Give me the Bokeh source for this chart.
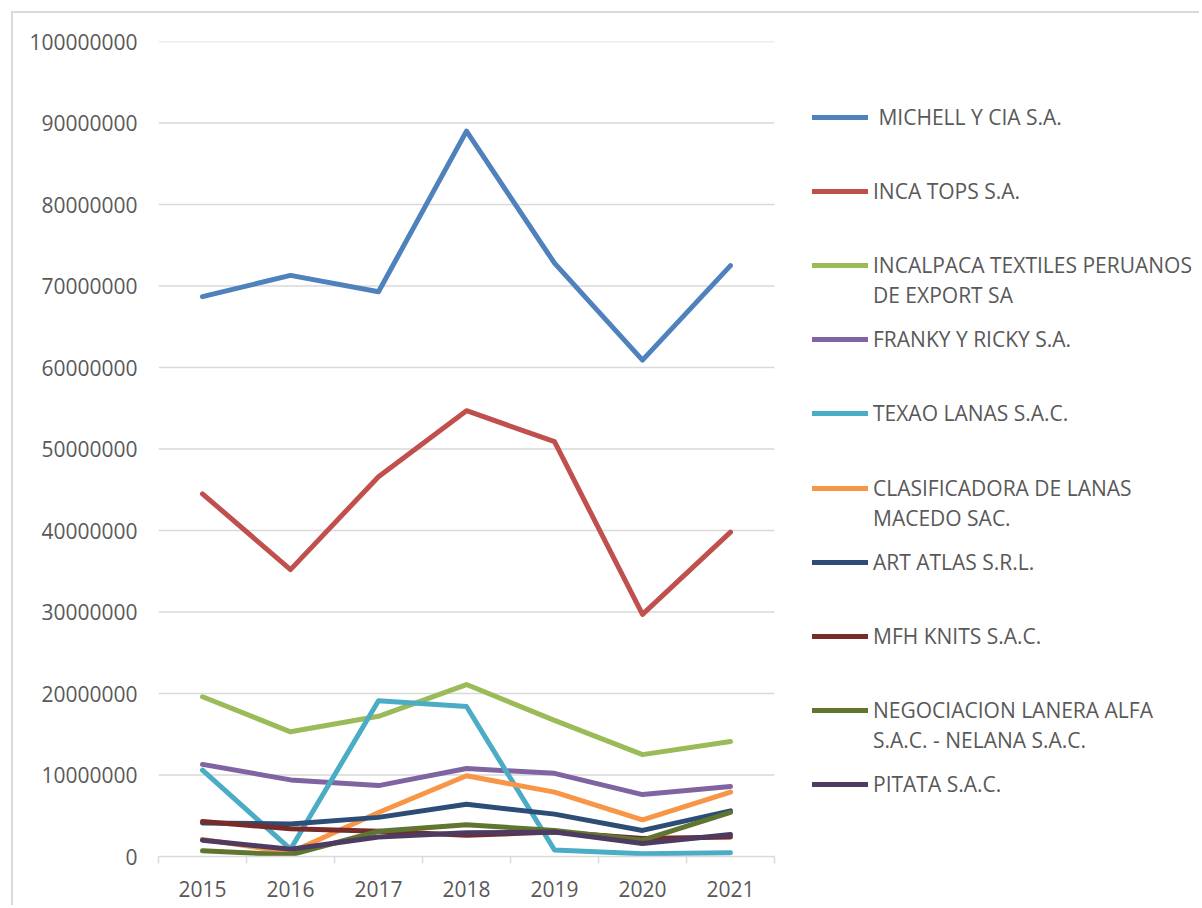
from bokeh.plotting import figure
from bokeh.models import (Range1d, FixedTicker, NumeralTickFormatter, Legend, LegendItem)
from bokeh.embed import file_html
from bokeh.resources import INLINE

years = ["2015", "2016", "2017", "2018", "2019", "2020", "2021"]

# legend labels; a tuple means the label wraps onto a second line
names = [
    (" MICHELL Y CIA S.A.",),
    ("INCA TOPS S.A.",),
    ("INCALPACA TEXTILES PERUANOS", "DE EXPORT SA"),
    ("FRANKY Y RICKY S.A.",),
    ("TEXAO LANAS S.A.C.",),
    ("CLASIFICADORA DE LANAS", "MACEDO SAC."),
    ("ART ATLAS S.R.L.",),
    ("MFH KNITS S.A.C.",),
    ("NEGOCIACION LANERA ALFA", "S.A.C. - NELANA S.A.C."),
    ("PITATA S.A.C.",),
]

michell = [68700000, 71300000, 69300000, 89000000, 72800000, 60900000, 72500000]
inca_tops = [44500000, 35200000, 46600000, 54700000, 50900000, 29700000, 39800000]
incalpaca = [19600000, 15300000, 17200000, 21100000, 16700000, 12500000, 14100000]
franky = [11300000, 9400000, 8700000, 10800000, 10200000, 7600000, 8600000]
texao = [10600000, 900000, 19100000, 18400000, 800000, 350000, 450000]
clasificadora = [2100000, 500000, 5400000, 9900000, 7900000, 4500000, 7900000]
art_atlas = [4100000, 4000000, 4800000, 6400000, 5200000, 3200000, 5600000]
mfh_knits = [4300000, 3400000, 3100000, 2600000, 3000000, 2200000, 2400000]
nelana = [700000, 200000, 3100000, 3900000, 3200000, 2000000, 5400000]
pitata = [2000000, 900000, 2400000, 2900000, 3000000, 1600000, 2700000]

y_ticks = [0, 10000000, 20000000, 30000000, 40000000, 50000000,
           60000000, 70000000, 80000000, 90000000, 100000000]

series = [michell, inca_tops, incalpaca, franky, texao, clasificadora,
          art_atlas, mfh_knits, nelana, pitata]
colors = ["#4F81BD", "#C0504D", "#9BBB59", "#8064A2", "#4BACC6", "#F79646",
          "#2C4D75", "#772C2A", "#5F7530", "#4D3B62"]

FONT = "Open Sans"
TXT = "#595959"
GRID = "#D9D9D9"

# page geometry (pixels)
M, B = 11, 2                      # outer margin and chart-border width
ORIGIN = M + B                    # canvas origin on the page
W, H = 1188, 894
LEFT, TOP, BOTTOM = 158, 41, 856  # frame edges on the page
PLOT_RIGHT = 774                  # end of the category axis on the page
n = len(years)
px_per_cat = (PLOT_RIGHT - LEFT) / n
canvas_right = ORIGIN + W
x_end = -0.5 + (canvas_right - LEFT) / px_per_cat   # frame reaches the right edge; legend sits inside

p = figure(width=W, height=H, output_backend="svg", toolbar_location=None,
           x_range=Range1d(-0.5, x_end), y_range=Range1d(0, y_ticks[-1]),
           min_border_left=LEFT - ORIGIN, min_border_right=0, min_border_top=TOP - ORIGIN,
           min_border_bottom=ORIGIN + H - BOTTOM)
p.styles = {"margin-left": f"{M}px", "margin-top": f"{M}px",
            "border-left": f"{B}px solid #DADADA", "border-top": f"{B}px solid #DADADA"}
p.outline_line_color = None
p.background_fill_color = "white"
p.border_fill_color = "white"

# horizontal gridlines limited to the category area
p.xgrid.grid_line_color = None
p.ygrid.grid_line_color = None
p.segment(x0=[-0.5] * (len(y_ticks) - 1), x1=[n - 0.5] * (len(y_ticks) - 1),
          y0=y_ticks[1:], y1=y_ticks[1:], line_color=GRID, line_width=1.5)

xs = list(range(n))
renderers = []
for vals, c in zip(series, colors):
    r = p.line(xs, vals, line_color=c, line_width=5, line_join="round", line_cap="round")
    renderers.append(r)

# invisible renderer used for the continuation line of wrapped legend labels
blank = p.line(x=[], y=[], line_alpha=0)

xa = p.xaxis[0]
xa.bounds = (-0.5, n - 0.5)
xa.ticker = FixedTicker(ticks=xs, minor_ticks=[i - 0.5 for i in range(n + 1)])
xa.major_label_overrides = {i: y for i, y in enumerate(years)}
xa.major_tick_line_color = None
xa.major_tick_out = 0
xa.major_tick_in = 0
xa.minor_tick_line_color = GRID
xa.minor_tick_line_width = 1.5
xa.minor_tick_out = 7
xa.minor_tick_in = 0
xa.axis_line_color = GRID
xa.axis_line_width = 1.5
xa.major_label_text_font = FONT
xa.major_label_text_font_size = "21px"
xa.major_label_text_color = TXT
xa.major_label_standoff = 17

ya = p.yaxis[0]
ya.ticker = FixedTicker(ticks=y_ticks)
ya.formatter = NumeralTickFormatter(format="0")
ya.axis_line_color = None
ya.major_tick_line_color = None
ya.minor_tick_line_color = None
ya.major_tick_out = 0
ya.major_tick_in = 0
ya.major_label_text_font = FONT
ya.major_label_text_font_size = "21px"
ya.major_label_text_color = TXT
ya.major_label_standoff = 21

# legend: one small legend per entry, placed at the reference positions
ROW_H = 30
legend_x = 812
first_y, step = 117, 74.1
for i, (lines, r) in enumerate(zip(names, renderers)):
    gy = first_y + i * step
    items = [LegendItem(label=lines[0], renderers=[r])]
    for extra in lines[1:]:
        items.append(LegendItem(label=extra, renderers=[blank]))
    top = gy - ROW_H / 2
    bottom = top + ROW_H * len(items)
    lg = Legend(items=items, location=(legend_x - LEFT, BOTTOM - bottom))
    lg.padding = 0
    lg.margin = 0
    lg.spacing = 0
    lg.glyph_width = 56
    lg.glyph_height = ROW_H
    lg.label_height = ROW_H
    lg.label_standoff = 5
    lg.label_text_font = FONT
    lg.label_text_font_size = "21px"
    lg.label_text_color = TXT
    lg.border_line_color = None
    lg.background_fill_alpha = 0
    lg.click_policy = "none"
    p.add_layout(lg, "center")

open("out.html", "w").write(file_html(p, INLINE))
